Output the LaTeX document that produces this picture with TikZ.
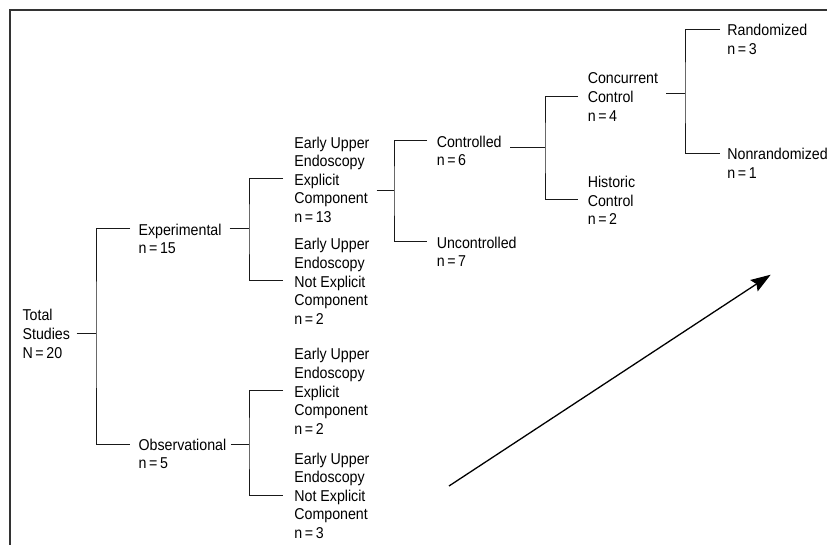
\documentclass[tikz,border=0pt]{standalone}
\usepackage{fontspec}
\setmainfont{Liberation Sans}[FakeStretch=0.905]
\usetikzlibrary{calc,arrows.meta}
\begin{document}
\begin{tikzpicture}[x=1pt,y=-1pt,
  txt/.style={font=\fontsize{15.7}{18.6}\selectfont, align=left, inner sep=0pt, anchor=north west},
  conn/.style={line width=1pt, black!90},
  frame/.style={line width=1.6pt, black!80}]
\useasboundingbox (0,0) rectangle (827,545);
% frame
\draw[frame] (10,545) -- (10,10) -- (827,10);
% nodes
\node[txt] (tot) at (22.4,307.6) {\strut Total\\\strut Studies\\\strut N\,=\,20};
\node[txt] (exp) at (138.4,222.1) {\strut Experimental\\\strut n\,=\,15};
\node[txt] (obs) at (138.4,437.1) {\strut Observational\\\strut n\,=\,5};
\node[txt] (e1) at (294.2,134.9) {\strut Early Upper\\\strut Endoscopy\\\strut Explicit\\\strut Component\\\strut n\,=\,13};
\node[txt] (e2) at (294.2,236.6) {\strut Early Upper\\\strut Endoscopy\\\strut Not Explicit\\\strut Component\\\strut n\,=\,2};
\node[txt] (o1) at (294.2,346.6) {\strut Early Upper\\\strut Endoscopy\\\strut Explicit\\\strut Component\\\strut n\,=\,2};
\node[txt] (o2) at (294.2,450.9) {\strut Early Upper\\\strut Endoscopy\\\strut Not Explicit\\\strut Component\\\strut n\,=\,3};
\node[txt] (ctl) at (436.6,134.1) {\strut Controlled\\\strut n\,=\,6};
\node[txt] (unc) at (436.6,235.1) {\strut Uncontrolled\\\strut n\,=\,7};
\node[txt] (cc) at (587.6,70.6) {\strut Concurrent\\\strut Control\\\strut n\,=\,4};
\node[txt] (hc) at (587.6,174.5) {\strut Historic\\\strut Control\\\strut n\,=\,2};
\node[txt] (rnd) at (727.2,22.6) {\strut Randomized\\\strut n\,=\,3};
\node[txt] (nrd) at (727.2,146.6) {\strut Nonrandomized\\\strut n\,=\,1};
% junctions
\coordinate (j1) at (96,333);
\coordinate (j2) at (249,229);
\coordinate (j3) at (249,444);
\coordinate (j4) at (394,191);
\coordinate (j5) at (545,148);
\coordinate (j6) at (685,94);
% child entry points
\coordinate (exp-in) at ($(exp.north west)+(-8.4,6.9)$);
\coordinate (obs-in) at ($(obs.north west)+(-8.4,6.9)$);
\coordinate (e1-in) at ($(e1.north west)+(-11.2,44.1)$);
\coordinate (e2-in) at ($(e2.north west)+(-11.2,44.1)$);
\coordinate (o1-in) at ($(o1.north west)+(-11.2,44.1)$);
\coordinate (o2-in) at ($(o2.north west)+(-11.2,44.1)$);
\coordinate (ctl-in) at ($(ctl.north west)+(-9.6,6.9)$);
\coordinate (unc-in) at ($(unc.north west)+(-9.6,6.9)$);
\coordinate (cc-in) at ($(cc.north west)+(-9.6,25.5)$);
\coordinate (hc-in) at ($(hc.north west)+(-9.6,25.5)$);
\coordinate (rnd-in) at ($(rnd.north west)+(-7.2,6.9)$);
\coordinate (nrd-in) at ($(nrd.north west)+(-7.2,6.9)$);
% connectors
\draw[conn] (tot.east |- j1) ++(6.5,0) -- (j1);
\draw[conn] (exp-in) -| (j1) |- (obs-in);
\draw[conn] (exp.east |- j2) ++(8,0) -- (j2);
\draw[conn] (e1-in) -| (j2) |- (e2-in);
\draw[conn] (obs.east |- j3) ++(4.5,0) -- (j3);
\draw[conn] (o1-in) -| (j3) |- (o2-in);
\draw[conn] (e1.east |- j4) ++(7,0) -- (j4);
\draw[conn] (ctl-in) -| (j4) |- (unc-in);
\draw[conn] (ctl.east |- j5) ++(8.5,0) -- (j5);
\draw[conn] (cc-in) -| (j5) |- (hc-in);
\draw[conn] (cc.east |- j6) ++(8,0) -- (j6);
\draw[conn] (rnd-in) -| (j6) |- (nrd-in);
% arrow
\coordinate (aS) at (449,486);
\coordinate (aE) at (770.7,274.7);
\draw[line width=1.3pt, -{Stealth[length=20pt,width=13.5pt,inset=3pt]}] (aS) -- (aE);
\end{tikzpicture}
\end{document}
